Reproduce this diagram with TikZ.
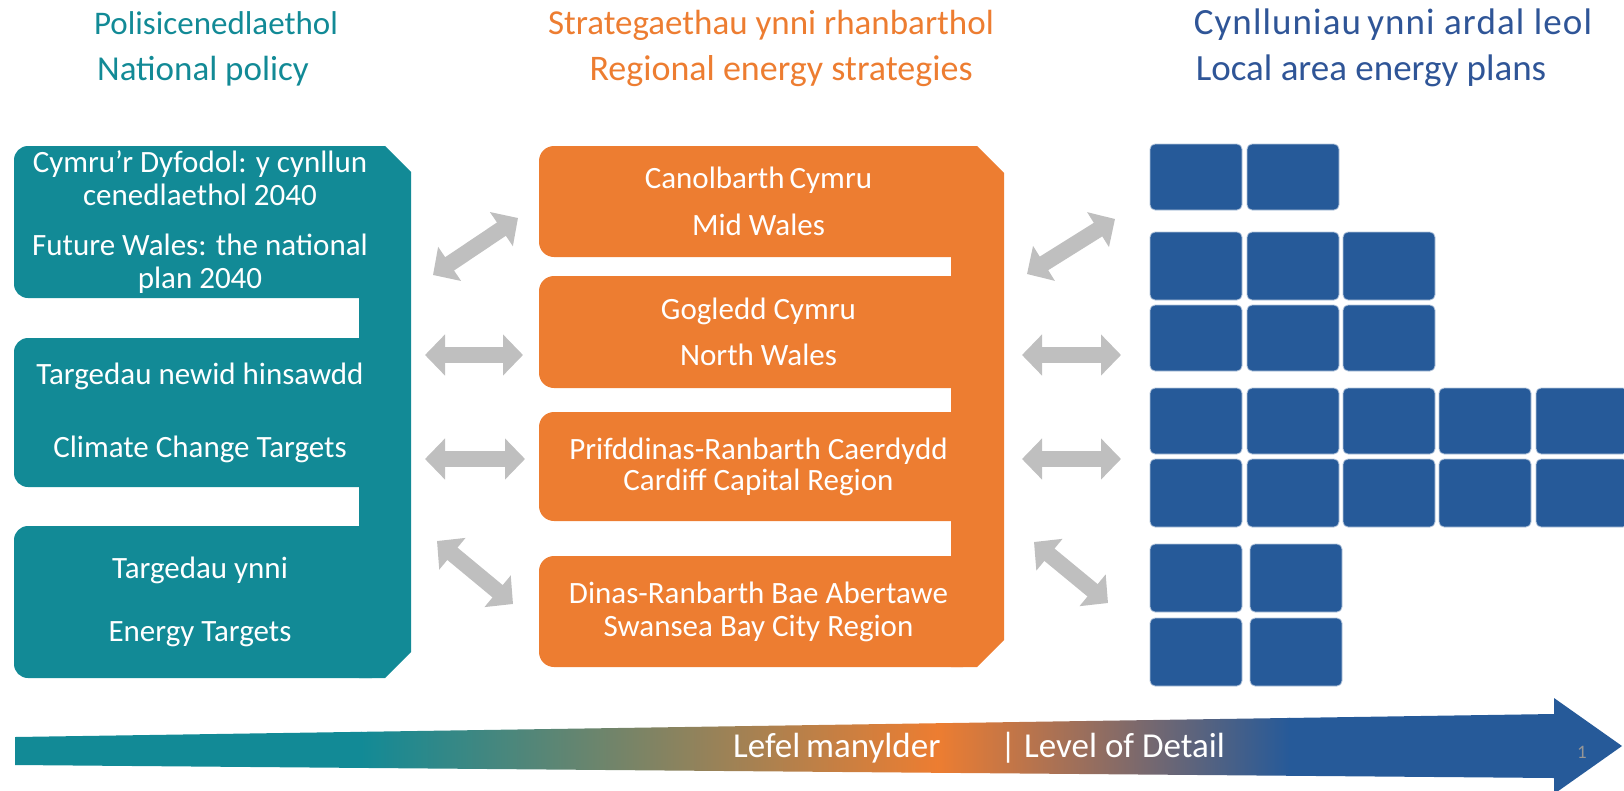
\documentclass[tikz,border=0pt]{standalone}
\usepackage{fontspec}
\setmainfont{Carlito}
\newfontfamily\widecarlito[LetterSpace=3]{Carlito}
\usetikzlibrary{arrows.meta}
\definecolor{tealc}{RGB}{18,138,150}
\definecolor{orangec}{RGB}{237,125,49}
\definecolor{bluec}{RGB}{38,90,153}
\definecolor{titleblue}{RGB}{47,85,151}
\definecolor{arrowgray}{RGB}{191,191,191}
\definecolor{pagegray}{RGB}{150,150,150}
\begin{document}
\begin{tikzpicture}[x=1pt,y=-1pt,
  title/.style={font=\fontsize{35}{40}\selectfont, anchor=base, inner sep=0pt},
  body/.style={font=\fontsize{31}{33}\selectfont, text=white, align=center},
  tealblock/.style={body, fill=tealc, rounded corners=14pt, inner sep=0pt, outer sep=0pt, anchor=north west, minimum width=372pt},
  orangeblock/.style={body, fill=orangec, rounded corners=15pt, inner sep=0pt, outer sep=0pt, anchor=north west, minimum width=439pt},
  pvbox/.style={fill=bluec, draw=bluec!35, line width=0.8pt, rounded corners=5pt, inner sep=0pt, outer sep=0pt, anchor=north west, minimum width=92pt},
  garrow/.style={draw=arrowgray, line width=16pt, line cap=butt,
     {Triangle[length=20pt,width=40pt]}-{Triangle[length=20pt,width=40pt]}},
  lvl/.style={font=\fontsize{35}{40}\selectfont, text=white, anchor=base west, inner sep=0pt}
]
\useasboundingbox (0,0) rectangle (1624,790);

% titles
\node[title, text=tealc, font=\fontsize{33}{40}\selectfont] (tt1) at (216,34) {Polisicenedlaethol};
\node[title, text=tealc] (tt2) at (203,80) {National policy};
\node[title, text=orangec] (to1) at (771,34) {Strategaethau ynni rhanbarthol};
\node[title, text=orangec, font=\fontsize{36}{40}\selectfont] (to2) at (781,80) {Regional energy strategies};
\node[title, text=titleblue, font=\widecarlito\fontsize{37}{40}\selectfont] (tb1) at (1393,34) {Cynlluniau\,ynni ardal leol};
\node[title, text=titleblue, font=\fontsize{37}{40}\selectfont] (tb2) at (1371,80) {Local area energy plans};

% teal column
\fill[tealc] (359,146) -- (385,146) -- (411,172) -- (411,652) -- (385,678) -- (359,678) -- cycle;
\node[tealblock, minimum height=152pt] (t1) at (14,146)
  {Cymru’r Dyfodol: y cynllun\\cenedlaethol 2040\\[17pt]Future Wales: the national\\plan 2040};
\node[tealblock, minimum height=149pt] (t2) at (14,338)
  {Targedau newid hinsawdd\\[40pt]Climate Change Targets};
\node[tealblock, minimum height=152pt] (t3) at (14,526)
  {Targedau ynni\\[30pt]Energy Targets};

% orange column
\fill[orangec] (951,146) -- (977,146) -- (1004,173) -- (1004,640) -- (977,667) -- (951,667) -- cycle;
\node[orangeblock, minimum height=111pt] (o1) at (539,146)
  {Canolbarth\,Cymru\\[14pt]Mid Wales};
\node[orangeblock, minimum height=112pt] (o2) at (539,276)
  {Gogledd Cymru\\[13pt]North Wales};
\node[orangeblock, minimum height=109pt] (o3) at (539,412)
  {Prifddinas-Ranbarth Caerdydd\\[-2pt]Cardiff Capital Region};
\node[orangeblock, minimum height=111pt] (o4) at (539,556)
  {Dinas-Ranbarth Bae Abertawe\\Swansea Bay City Region};

% blue local plan tiles
\foreach \rn/\ty/\hh/\cols in {
   1/144/66/{1150,1247},
   2/232/68/{1150,1247,1343},
   3/305/66/{1150,1247,1343},
   4/388/66/{1150,1247,1343,1439,1536},
   5/459/68/{1150,1247,1343,1439,1536},
   6/544/68/{1150,1250},
   7/618/68/{1150,1250}} {
  \foreach \cx [count=\ci] in \cols {
    \node[pvbox, minimum height=\hh pt] (p\rn-\ci) at (\cx,\ty) {};
  }
}

% connector end points
\coordinate (a1s) at (433,275); \coordinate (a1e) at (518,218);
\coordinate (a2s) at (425,355); \coordinate (a2e) at (523,355);
\coordinate (a3s) at (425,459); \coordinate (a3e) at (525,459);
\coordinate (a4s) at (437,541); \coordinate (a4e) at (513,604);
\coordinate (b1s) at (1027,274); \coordinate (b1e) at (1115,219);
\coordinate (b2s) at (1022,355); \coordinate (b2e) at (1121,355);
\coordinate (b3s) at (1022,459); \coordinate (b3e) at (1121,459);
\coordinate (b4s) at (1034,542); \coordinate (b4e) at (1108,603);
\foreach \a in {a1,a2,a3,a4,b1,b2,b3,b4} {
  \draw[garrow] (\a s) -- (\a e);
}

% level of detail arrow
\begin{scope}
\clip (15,737) -- (1554,714) -- (1554,698) -- (1622,746) -- (1554,794) -- (1554,778) -- (15,765) -- cycle;
\fill[tealc] (0,690) rectangle (362,800);
\shade[left color=tealc, right color=orangec] (361,690) rectangle (938,800);
\shade[left color=orangec, right color=bluec] (937,690) rectangle (1290,800);
\fill[bluec] (1289,690) rectangle (1630,800);
\end{scope}
\node[lvl] (lvl1) at (733,757) {Lefel\,manylder};
\node[lvl] (lvl2) at (1000,757) {| Level of Detail};
\node[font=\fontsize{19}{20}\selectfont, text=pagegray, inner sep=0pt] (pg) at (1582,752) {1};
\end{tikzpicture}
\end{document}
